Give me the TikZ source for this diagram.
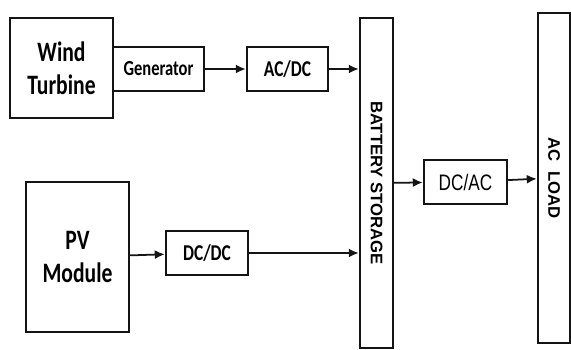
\documentclass[tikz,border=0pt]{standalone}
\usepackage{fontspec}
\usepackage{graphicx}
\usepackage{tikz}
\usetikzlibrary{arrows.meta, positioning, calc}
\newfontfamily\calib{Carlito}
\newfontfamily\arial{Liberation Sans}
\definecolor{mydark}{RGB}{20,20,20}
\def\sy{1.3}
\tikzset{
  block/.style={rectangle, draw=mydark, line width=1.4pt, inner sep=0pt,
    align=center, yscale=\sy, transform shape, font=\calib\bfseries},
  bigtext/.style={font=\calib\bfseries\fontsize{12.3pt}{14.5pt}\selectfont},
  smalltext/.style={font=\calib\bfseries\fontsize{9.4pt}{11pt}\selectfont},
  midtext/.style={font=\calib\bfseries\fontsize{9.9pt}{11pt}\selectfont},
  bar/.style={rectangle, draw=mydark, line width=1.4pt, inner sep=0pt,
    minimum width=6.6mm, minimum height=66mm,
    font=\arial\bfseries\fontsize{9.5pt}{11pt}\selectfont},
  arrow/.style={-{Latex[length=2mm, width=1.8mm]}, line width=1pt, color=mydark}
}
\begin{document}
\begin{tikzpicture}[x=0.2mm, y=-0.2mm]
  \useasboundingbox (0,0) rectangle (571,350);

  % --- Wind branch ---
  \node[block, bigtext, minimum width=20.6mm, minimum height=20mm/\sy] (wind) at (61.5,68) {Wind\\Turbine};
  \node[block, smalltext, minimum width=18.2mm, minimum height=8.8mm/\sy] (gen) at (158.5,69) {Generator};
  \node[block, midtext, minimum width=16.2mm, minimum height=8.8mm/\sy] (acdc) at (287.5,69) {AC/DC};

  % --- PV branch ---
  \node[block, bigtext, minimum width=20.6mm, minimum height=30mm/\sy] (pv) at (77.5,257) {PV\\Module};
  \node[block, midtext, minimum width=16.4mm, minimum height=8.8mm/\sy] (dcdc) at (207,253) {DC/DC};

  % --- Storage, inverter and load ---
  \node[bar] (batt) at (376.5,183) {\rotatebox{-90}{BATTERY STORAGE}};
  \node[block, font=\arial\fontsize{9.8pt}{11pt}\selectfont, minimum width=16.6mm, minimum height=8.8mm/\sy] (dcac) at (465.5,182) {DC/AC};
  \node[bar, minimum width=6.4mm] (load) at (554,178) {\rotatebox{-90}{AC~~LOAD}};

  \draw[arrow] (gen) -- (acdc);
  \draw[arrow] (acdc) -- (acdc -| batt.west);
  \draw[arrow] (pv) -- (dcdc);
  \draw[arrow] (dcdc) -- (dcdc -| batt.west);
  \draw[arrow] (batt) -- (dcac);
  \draw[arrow] (dcac) -- (load);
\end{tikzpicture}
\end{document}
